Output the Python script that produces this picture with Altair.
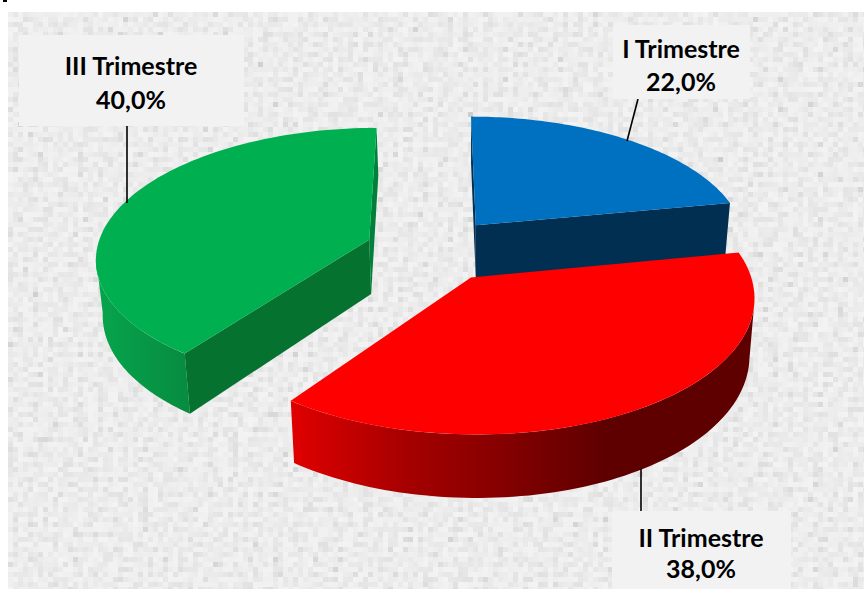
import numpy as np
import pandas as pd
import altair as alt

# Quarterly shares, in percent, clockwise from twelve o'clock
categories = ["I Trimestre", "II Trimestre", "III Trimestre"]
shares = [22.0, 38.0, 40.0]

W, H = 864, 589

# Perspective model of the exploded pie
EXPLODE = 0.25
CX, CY, RX, RY, PERSP = 433.4, 249.5, 272.6, 128.7, 0.13
DEPTH_BASE, DEPTH_SLOPE, SHRINK, SHRINK_X = 55.0, 7.0, 0.018, 475.0


def project(X, Z, lower=False):
    d = 1 + PERSP * Z
    x = CX + RX * X / d
    y = CY - RY * Z / d
    if lower:
        x = SHRINK_X + (x - SHRINK_X) * (1 - SHRINK)
        y = y + DEPTH_BASE - DEPTH_SLOPE * Z
    return x, y


edges = np.cumsum([0.0] + shares) / 100 * 360


def arc(i, a0=None, a1=None, lower=False):
    start = edges[i] if a0 is None else a0
    end = edges[i + 1] if a1 is None else a1
    mid = np.radians((edges[i] + edges[i + 1]) / 2)
    t = np.radians(np.linspace(start, end, 80))
    X = EXPLODE * np.sin(mid) + np.sin(t)
    Z = EXPLODE * np.cos(mid) + np.cos(t)
    return project(X, Z, lower)


def apex(i, lower=False):
    mid = np.radians((edges[i] + edges[i + 1]) / 2)
    return project(EXPLODE * np.sin(mid), EXPLODE * np.cos(mid), lower)


x_scale = alt.Scale(domain=[0, W], range=[0, W], nice=False, zero=False)
y_scale = alt.Scale(domain=[0, H], range=[0, H], nice=False, zero=False)


def polygon(xs, ys, fill):
    frame = pd.DataFrame({"x": np.round(xs, 2), "y": np.round(ys, 2), "i": np.arange(len(xs))})
    return (
        alt.Chart(frame)
        .mark_line(interpolate="linear-closed", fill=fill, strokeOpacity=0)
        .encode(
            x=alt.X("x:Q", scale=x_scale, axis=None),
            y=alt.Y("y:Q", scale=y_scale, axis=None),
            order="i:Q",
        )
    )


def top(i, fill):
    ax, ay = apex(i)
    xs, ys = arc(i)
    return polygon(np.r_[ax, xs], np.r_[ay, ys], fill)


def radial_wall(i, angle, fill):
    ax, ay = apex(i)
    bx, by = apex(i, True)
    rx, ry = arc(i, angle, angle)
    sx, sy = arc(i, angle, angle, True)
    return polygon([ax, rx[0], sx[0], bx], [ay, ry[0], sy[0], by], fill)


def outer_wall(i, a0, a1, fill):
    xs, ys = arc(i, a0, a1)
    lx, ly = arc(i, a0, a1, True)
    return polygon(np.r_[xs, lx[::-1]], np.r_[ys, ly[::-1]], fill)


def shade(*stops):
    return alt.Gradient(
        gradient="linear", x1=0, x2=1, y1=0, y2=0,
        stops=[alt.GradientStop(offset=o, color=c) for o, c in stops],
    )


# Mottled paper backdrop, from warped interfering waves
CELL = 5
gx, gy = np.meshgrid(np.arange(8, W, CELL), np.arange(12, H, CELL))
warp = 2.2 * np.sin(0.031 * gx + 0.047 * gy) + 1.7 * np.sin(0.053 * gx - 0.029 * gy + 1.1)
waves = [
    (0.29, 0.13, 1.3), (-0.17, 0.37, 0.4), (0.41, -0.23, 2.2), (0.11, 0.53, 4.1),
    (0.47, 0.31, 3.3), (-0.37, 0.43, 5.2), (0.23, 0.61, 0.9), (0.59, -0.07, 1.7),
]
tone = sum(np.sin(fx * gx + fy * gy + p + warp * (1 + n % 3)) for n, (fx, fy, p) in enumerate(waves))
grey = np.clip(237 - 3.0 * np.maximum(tone, -2.5) - 0.2 * tone ** 2, 205, 248).astype(int)
paper = pd.DataFrame({
    "x": gx.ravel(),
    "x2": np.minimum(gx.ravel() + CELL, W),
    "y": gy.ravel(),
    "y2": np.minimum(gy.ravel() + CELL, H),
    "c": [f"#{v:02x}{v:02x}{v:02x}" for v in grey.ravel()],
})
backdrop = (
    alt.Chart(paper)
    .mark_rect(strokeWidth=0)
    .encode(
        x=alt.X("x:Q", scale=x_scale, axis=None),
        x2="x2:Q",
        y=alt.Y("y:Q", scale=y_scale, axis=None),
        y2="y2:Q",
        color=alt.Color("c:N", scale=None),
    )
)

BLUE, RED, GREEN = "#0070c0", "#ff0000", "#00b050"

slices = [
    # first quarter, behind everything else
    radial_wall(0, edges[0], "#002f52"),
    radial_wall(0, edges[1], "#002f52"),
    top(0, BLUE),
    # third quarter
    radial_wall(2, edges[3], "#00803a"),
    outer_wall(2, edges[2], 262, shade((0, "#06a54c"), (1, "#078b40"))),
    radial_wall(2, edges[2], "#05722f"),
    top(2, GREEN),
    # second quarter, in front
    outer_wall(1, 100, edges[2], shade(
        (0, "#e00000"), (0.25, "#a60000"), (0.45, "#860000"), (0.68, "#5e0000"), (1, "#5f0000"),
    )),
    top(1, RED),
]


def leader(x0, y0, x1, y1):
    return alt.Chart(pd.DataFrame({"a": [0]})).mark_rule(color="#000000", strokeWidth=1.6).encode(
        x=alt.value(x0), y=alt.value(y0), x2=alt.value(x1), y2=alt.value(y1)
    )


def label(i, left, right, upper, lower, cx, y_name, y_value):
    box = alt.Chart(pd.DataFrame({"a": [0]})).mark_rect(fill="#f2f2f2", strokeWidth=0).encode(
        x=alt.value(left), x2=alt.value(right), y=alt.value(upper), y2=alt.value(lower)
    )
    pct = f"{shares[i]:.1f}".replace(".", ",") + "%"
    style = dict(font="Lato", fontWeight="bold", fontSize=25, color="#000000", align="center", baseline="middle")
    name = alt.Chart(pd.DataFrame({"t": [categories[i]]})).mark_text(**style).encode(
        x=alt.value(cx), y=alt.value(y_name), text="t:N"
    )
    value = alt.Chart(pd.DataFrame({"t": [pct]})).mark_text(**style).encode(
        x=alt.value(cx), y=alt.value(y_value), text="t:N"
    )
    return [box, name, value]


notes = [
    leader(127, 126, 127, 203),
    leader(638, 99, 627, 141),
    leader(641, 469, 641, 511),
    *label(0, 613, 750, 25, 99, 681, 49.5, 82.5),
    *label(1, 612, 791, 511, 589, 701, 538.5, 569.5),
    *label(2, 19, 244, 35, 126, 131, 66.5, 100.5),
    # short tick at the page corner
    alt.Chart(pd.DataFrame({"a": [0]})).mark_rect(fill="#000000", strokeWidth=0).encode(
        x=alt.value(3), x2=alt.value(7), y=alt.value(0), y2=alt.value(2)
    ),
]

chart = (
    alt.layer(backdrop, *slices, *notes)
    .properties(
        width=W, height=H, padding=0, background="#ffffff",
        autosize=alt.AutoSizeParams(type="none"),
    )
    .configure_view(stroke=None)
)

chart.save("out.html", embed_options={"renderer": "svg", "actions": False})
